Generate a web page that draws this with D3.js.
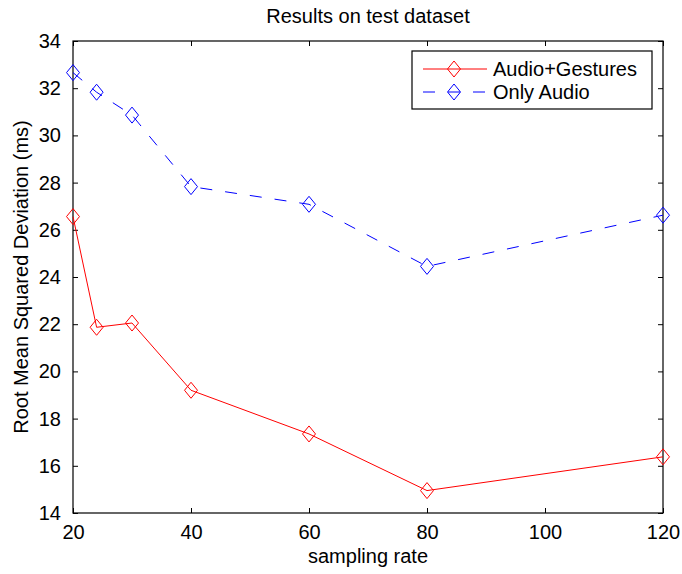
<!DOCTYPE html>
<html lang="en">

<head>
  <meta charset="UTF-8">
  <title>Results on test dataset</title>
  <style>
    body { margin: 0; background: #fff; }
    svg text { font-family: "Liberation Sans", Arial, Helvetica, sans-serif; fill: #000; }
  </style>
</head>

<body>
  <svg></svg>
  <script src="https://cdn.jsdelivr.net/npm/d3@7"></script>
  <script>
    // data
    var samplingRate = [20, 24, 30, 40, 60, 80, 120];
    var audioGestures = [26.56, 21.87, 22.05, 19.2, 17.35, 14.95, 16.38];
    var onlyAudio = [32.66, 31.83, 30.86, 27.83, 27.08, 24.45, 26.62];
    var seriesNames = ["Audio+Gestures", "Only Audio"];
    var xTicks = [20, 40, 60, 80, 100, 120];
    var yTicks = [14, 16, 18, 20, 22, 24, 26, 28, 30, 32, 34];

    var width = 682, height = 574;
    var margin = { top: 41, right: 19, bottom: 61, left: 73 };

    var svg = d3.select("svg")
      .attr("width", width)
      .attr("height", height);

    var x = d3.scaleLinear()
      .domain([20, 120])
      .range([margin.left, width - margin.right]);
    var y = d3.scaleLinear()
      .domain([14, 34])
      .range([height - margin.bottom, margin.top]);

    var series = [
      { name: seriesNames[0], values: audioGestures, color: "#ff0000", dash: null },
      { name: seriesNames[1], values: onlyAudio, color: "#0000ff", dash: "12,13" }
    ];

    // diamond marker, a bit taller than wide like matlab's 'd'
    function diamond(cx, cy) {
      var w = 6.5, h = 8;
      return "M" + cx + "," + (cy - h) + "L" + (cx + w) + "," + cy +
        "L" + cx + "," + (cy + h) + "L" + (cx - w) + "," + cy + "Z";
    }

    // axes with inward ticks, mirrored on top and right (box on)
    var tickLen = 5;
    svg.append("g")
      .attr("transform", `translate(0, ${y(14)})`)
      .call(d3.axisBottom(x).tickValues(xTicks).tickSizeInner(-tickLen).tickSizeOuter(0).tickPadding(12))
      .call(g => g.selectAll("text").attr("font-size", "20px"));
    svg.append("g")
      .attr("transform", `translate(0, ${y(34)})`)
      .call(d3.axisTop(x).tickValues(xTicks).tickSizeInner(-tickLen).tickSizeOuter(0).tickFormat(""));
    svg.append("g")
      .attr("transform", `translate(${x(20)}, 0)`)
      .call(d3.axisLeft(y).tickValues(yTicks).tickSizeInner(-tickLen).tickSizeOuter(0).tickPadding(12))
      .call(g => g.selectAll("text").attr("font-size", "20px"));
    svg.append("g")
      .attr("transform", `translate(${x(120)}, 0)`)
      .call(d3.axisRight(y).tickValues(yTicks).tickSizeInner(-tickLen).tickSizeOuter(0).tickFormat(""));

    svg.selectAll(".domain").remove();
    svg.selectAll(".tick line").attr("stroke", "#000").attr("stroke-width", 1);

    svg.append("rect")
      .attr("x", x(20))
      .attr("y", y(34))
      .attr("width", x(120) - x(20))
      .attr("height", y(14) - y(34))
      .attr("fill", "none")
      .attr("stroke", "#000")
      .attr("stroke-width", 1.2);

    // lines + markers
    var line = d3.line()
      .x((d, i) => x(samplingRate[i]))
      .y(d => y(d));

    series.forEach(function (s) {
      svg.append("path")
        .datum(s.values)
        .attr("d", line)
        .attr("fill", "none")
        .attr("stroke", s.color)
        .attr("stroke-width", 1)
        .attr("stroke-dasharray", s.dash);
      svg.append("g")
        .selectAll("path")
        .data(s.values)
        .join("path")
        .attr("d", (d, i) => diamond(x(samplingRate[i]), y(d)))
        .attr("fill", "none")
        .attr("stroke", s.color)
        .attr("stroke-width", 1);
    });

    // title and labels
    svg.append("text")
      .attr("x", (x(20) + x(120)) / 2)
      .attr("y", 23)
      .attr("text-anchor", "middle")
      .attr("font-size", "20px")
      .text("Results on test dataset");

    svg.append("text")
      .attr("x", (x(20) + x(120)) / 2)
      .attr("y", 563)
      .attr("text-anchor", "middle")
      .attr("font-size", "20px")
      .text("sampling rate");

    svg.append("text")
      .attr("transform", `translate(28, ${(y(14) + y(34)) / 2}) rotate(-90)`)
      .attr("text-anchor", "middle")
      .attr("font-size", "20px")
      .text("Root Mean Squared Deviation (ms)");

    // legend
    var legend = svg.append("g").attr("transform", "translate(412, 51)");
    legend.append("rect")
      .attr("width", 240)
      .attr("height", 58)
      .attr("fill", "#fff")
      .attr("stroke", "#000")
      .attr("stroke-width", 1.2);

    var rows = legend.selectAll("g.row")
      .data(series)
      .join("g")
      .attr("class", "row")
      .attr("transform", (d, i) => `translate(0, ${18 + i * 23})`);
    rows.append("line")
      .attr("x1", 11).attr("x2", 75)
      .attr("stroke", d => d.color)
      .attr("stroke-width", 1)
      .attr("stroke-dasharray", d => d.dash);
    rows.append("path")
      .attr("d", diamond(42, 0))
      .attr("fill", "none")
      .attr("stroke", d => d.color);
    rows.append("text")
      .attr("x", 81)
      .attr("y", 7)
      .attr("font-size", "20px")
      .text(d => d.name);
  </script>
</body>

</html>
